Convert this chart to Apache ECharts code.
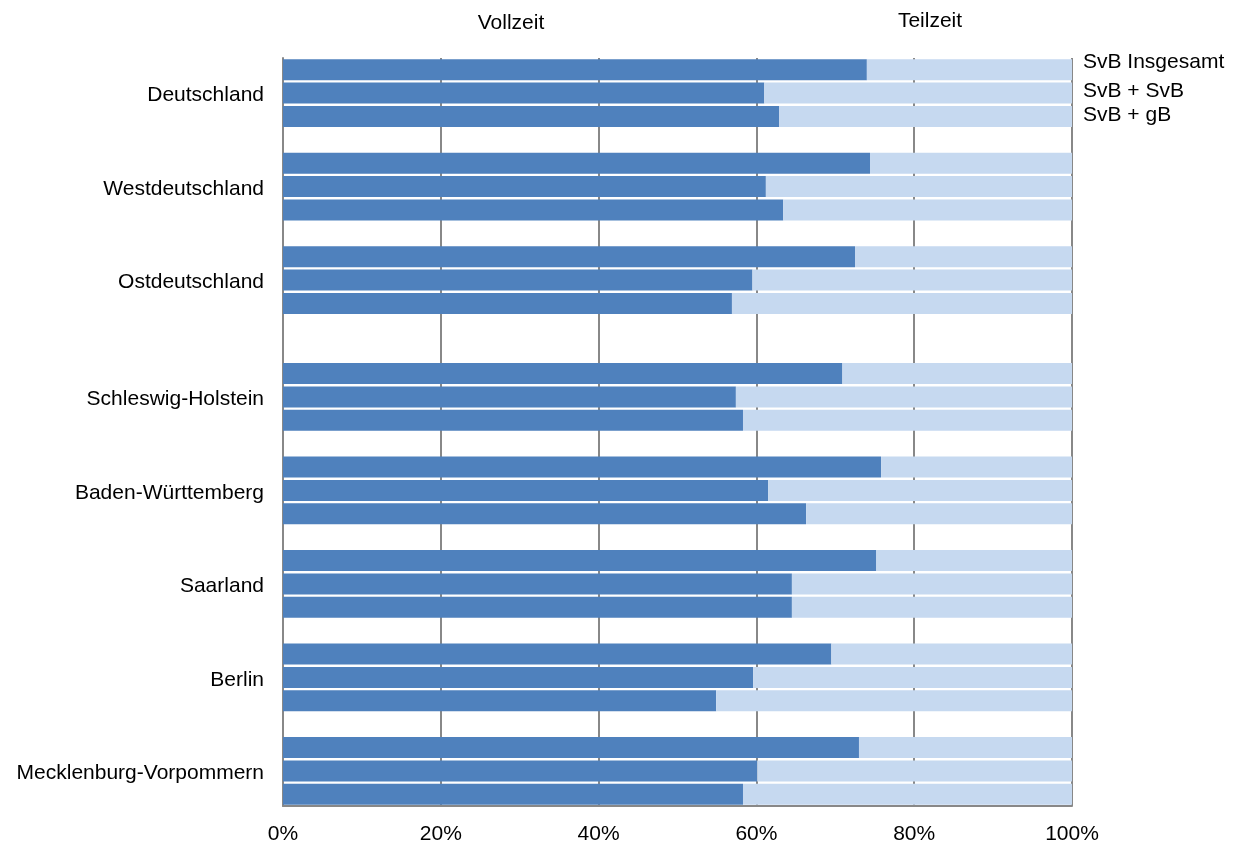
<!DOCTYPE html>
<html>
<head>
<meta charset="utf-8">
<script src="https://cdn.jsdelivr.net/npm/echarts@6/dist/echarts.min.js"></script>
<style>
  html, body { margin: 0; padding: 0; background: #fff; }
  #chart { width: 1240px; height: 845px; }
</style>
</head>
<body>
<div id="chart"></div>
<script>
// Regions, top to bottom
const regions = ['Deutschland', 'Westdeutschland', 'Ostdeutschland', 'Schleswig-Holstein',
  'Baden-Württemberg', 'Saarland', 'Berlin', 'Mecklenburg-Vorpommern'];
// Employment types shown per region (one bar each)
const barTypes = ['SvB Insgesamt', 'SvB + SvB', 'SvB + gB'];
// Share of full-time work (%) per employment type
const vollzeitInsgesamt = [74.0, 74.4, 72.5, 70.9, 75.8, 75.2, 69.5, 73.0];
const vollzeitSvbSvb    = [61.0, 61.2, 59.5, 57.4, 61.5, 64.5, 59.6, 60.1];
const vollzeitSvbGb     = [62.9, 63.4, 56.9, 58.3, 66.3, 64.5, 54.9, 58.3];
// Series names
const seriesNames = ['Vollzeit', 'Teilzeit'];
// Axis ticks
const tickValues = [0, 20, 40, 60, 80, 100];

// Build the row list: three bars per region, a blank row between regions,
// and an extra blank row separating the national aggregates from the states.
const rowKeys = [];
const rowLabels = [];
const vollzeitRows = [];
const teilzeitRows = [];
const typeSets = [vollzeitInsgesamt, vollzeitSvbSvb, vollzeitSvbGb];
regions.forEach((r, i) => {
  if (i > 0) { rowKeys.push('gap' + i); rowLabels.push(''); vollzeitRows.push(null); teilzeitRows.push(null); }
  if (i === 3) { rowKeys.push('sep'); rowLabels.push(''); vollzeitRows.push(null); teilzeitRows.push(null); }
  typeSets.forEach((set, t) => {
    rowKeys.push(r + '|' + t);
    rowLabels.push(t === 1 ? r : '');
    vollzeitRows.push(set[i]);
    teilzeitRows.push(+(100 - set[i]).toFixed(1));
  });
});

const FONT = '"Liberation Sans", Arial, sans-serif';
const chart = echarts.init(document.getElementById('chart'), null, { renderer: 'canvas' });

function label(text, x, y, align) {
  return {
    type: 'text', x: x, y: y,
    style: { text: text, font: '21px ' + FONT, fill: '#000', textAlign: align, textVerticalAlign: 'middle' }
  };
}

chart.setOption({
  backgroundColor: '#ffffff',
  animation: false,
  grid: { left: 283, right: 168, top: 58, bottom: 38, containLabel: false },
  xAxis: {
    type: 'value',
    min: tickValues[0],
    max: tickValues[tickValues.length - 1],
    interval: tickValues[1] - tickValues[0],
    axisLine: { show: true, lineStyle: { color: '#888888', width: 2 } },
    axisTick: { show: false },
    axisLabel: { formatter: '{value}%', fontSize: 21, color: '#000', fontFamily: FONT, margin: 18 },
    splitLine: { show: true, lineStyle: { color: '#888888', width: 2 } }
  },
  yAxis: {
    type: 'category',
    inverse: true,
    data: rowKeys,
    axisLine: { show: true, lineStyle: { color: '#888888', width: 2 } },
    axisTick: { show: false },
    axisLabel: {
      interval: 0,
      color: '#000',
      margin: 19,
      formatter: (v, idx) => rowLabels[idx] ? '{r|' + rowLabels[idx] + '}' : '',
      rich: {
        r: { fontSize: 21, fontFamily: FONT, color: '#000', padding: [5, 0, 0, 0] }
      }
    }
  },
  series: [
    {
      name: seriesNames[0],
      type: 'bar',
      stack: 'anteil',
      barWidth: 21,
      data: vollzeitRows,
      itemStyle: { color: '#4f81bd' }
    },
    {
      name: seriesNames[1],
      type: 'bar',
      stack: 'anteil',
      barWidth: 21,
      data: teilzeitRows,
      itemStyle: { color: '#c6d9f0' }
    }
  ],
  graphic: [
    label(seriesNames[0], 511, 23, 'center'),
    label(seriesNames[1], 930, 21, 'center')
  ].concat(barTypes.map((t, i) => label(t, 1083, [62, 91, 115][i], 'left')))
});
</script>
</body>
</html>
